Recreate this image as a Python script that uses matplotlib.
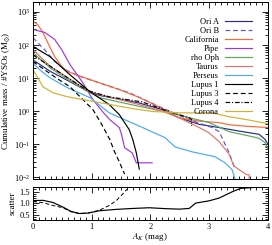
import numpy as np
import matplotlib
matplotlib.use("Agg")
import matplotlib.pyplot as plt
from matplotlib.ticker import MultipleLocator, LogLocator, NullFormatter

plt.rcParams['font.family'] = ['Liberation Serif', 'DejaVu Serif']
plt.rcParams['mathtext.fontset'] = 'stix'
plt.rcParams['font.size'] = 6

# cumulative mass / #YSOs curves (x = A_K in mag, y in Msun)
oria_x = [0, 0.3, 0.6, 0.93, 1.13, 1.8, 2.2, 2.49, 2.83, 3.17, 3.51, 3.85, 3.95, 4.0]
oria_y = [35.5, 15.8, 8.3, 4.0, 3.0, 1.78, 1.12, 0.63, 0.4, 0.32, 0.25, 0.2, 0.141, 0.1]

orib_x = [0, 0.2, 0.37, 0.54, 0.8, 1.13, 1.64, 2.15, 2.66, 3.05, 3.17, 3.25, 3.34, 3.4, 3.44]
orib_y = [166, 72, 32, 18.2, 11.2, 7.2, 3.6, 1.38, 0.55, 0.32, 0.24, 0.12, 0.055, 0.028, 0.018]

cal_x = [0, 0.08, 0.17, 0.25, 0.37, 0.49, 0.59, 0.74, 1.13, 1.47, 1.81, 2.2, 2.49, 2.83, 3.17, 3.34, 3.63, 4.0]
cal_y = [525, 417, 240, 120, 44.7, 22.4, 15.8, 12.6, 7.2, 4.5, 2.6, 1.2, 0.63, 0.5, 0.45, 0.39, 0.35, 0.32]

pipe_x = [0, 0.2, 0.37, 0.49, 0.63, 0.85, 1.02, 1.19, 1.31, 1.47, 1.51, 1.56, 1.69, 1.76, 2.03]
pipe_y = [295, 240, 148, 72, 25.7, 7.2, 2.24, 0.95, 0.55, 0.32, 0.195, 0.079, 0.055, 0.0275, 0.0275]

oph_x = [0, 0.3, 0.6, 0.93, 1.13, 1.8, 2.2, 2.49, 3.0, 3.34, 3.68, 3.85, 3.95, 4.0]
oph_y = [59, 20, 8.9, 4.0, 2.57, 1.41, 1.0, 0.76, 0.45, 0.24, 0.178, 0.151, 0.112, 0.071]

tau_x = [0, 0.3, 0.6, 0.93, 1.13, 1.81, 2.2, 2.49, 2.83, 3.0, 3.17, 3.34, 3.42, 3.56, 3.64, 3.68, 3.68]
tau_y = [72, 22.4, 10, 4.2, 3.2, 1.58, 1.0, 0.63, 0.32, 0.22, 0.12, 0.05, 0.022, 0.0148, 0.012, 0.012, 0.008]

per_x = [0, 0.15, 0.3, 0.6, 0.97, 1.3, 1.64, 1.81, 2.25, 2.42, 2.71, 3.1, 3.27, 3.39, 3.44]
per_y = [28, 15.8, 10, 5.0, 2.57, 0.89, 0.48, 0.355, 0.158, 0.083, 0.059, 0.042, 0.0275, 0.017, 0.009]

lup1_x = [0, 0.29, 0.63, 0.97, 1.3, 1.47, 1.64, 1.7, 1.76, 1.81]
lup1_y = [91, 44.7, 12.6, 3.9, 1.58, 0.79, 0.275, 0.138, 0.055, 0.0178]

lup3_x = [0, 0.2, 0.4, 0.63, 0.85, 1.02, 1.14, 1.22, 1.31, 1.39, 1.47, 1.56]
lup3_y = [31.6, 17.8, 10, 5.5, 2.24, 1.12, 0.5, 0.275, 0.138, 0.059, 0.0295, 0.0126]

lup4_x = [0, 0.3, 0.6, 0.93, 1.3, 1.86, 2.3, 2.66, 2.7, 2.7]
lup4_y = [50, 22.4, 10, 4.2, 2.7, 1.9, 1.0, 0.63, 0.56, 0.355]

cor_x = [0, 0.07, 0.17, 0.34, 0.58, 0.85, 1.13, 1.69, 2.03, 2.5, 3.05, 3.34, 3.65, 4.0]
cor_y = [18.2, 11.2, 5.5, 3.6, 2.75, 2.24, 1.82, 1.2, 0.98, 0.89, 0.89, 0.68, 0.55, 0.42]

# scatter panel
sc_x = [0, 0.17, 0.34, 0.51, 0.65, 0.79, 0.94, 1.13, 1.42, 1.7, 1.98, 2.27, 2.49, 2.66, 2.77, 3.0, 3.17, 3.4, 3.54, 3.73]
sc_y = [1.11, 1.12, 1.03, 0.83, 0.64, 0.55, 0.57, 0.67, 0.73, 0.77, 0.8, 0.76, 0.74, 0.77, 1.0, 1.1, 1.22, 1.5, 1.64, 1.67]
sc2_x = [0, 0.17, 0.34, 0.51, 0.65, 0.79, 0.94, 1.13, 1.3, 1.42, 1.53, 1.6]
sc2_y = [1.07, 1.02, 0.9, 0.8, 0.63, 0.55, 0.57, 0.69, 0.9, 1.11, 1.4, 1.6]

curves = [
    ("Ori A", oria_x, oria_y, "#2a2a8a", "-"),
    ("Ori B", orib_x, orib_y, "#5858d0", (0, (4, 2.5))),
    ("California", cal_x, cal_y, "#ff6633", "-"),
    ("Pipe", pipe_x, pipe_y, "#a335e0", "-"),
    ("rho Oph", oph_x, oph_y, "#5aa85a", "-"),
    ("Taurus", tau_x, tau_y, "#e4736a", "-"),
    ("Perseus", per_x, per_y, "#4aaaf0", "-"),
    ("Lupus 1", lup1_x, lup1_y, "black", "-"),
    ("Lupus 3", lup3_x, lup3_y, "black", (0, (4, 2.5))),
    ("Lupus 4", lup4_x, lup4_y, "black", (0, (4, 1.5, 1, 1.5))),
    ("Corona", cor_x, cor_y, "#d4b02e", "-"),
]

fig = plt.figure(figsize=(2.72, 2.45), dpi=100)
ax = fig.add_axes([0.121, 0.270, 0.864, 0.722])
ax2 = fig.add_axes([0.121, 0.102, 0.864, 0.135])

for name, xs, ys, c, ls in curves:
    ax.plot(xs, ys, color=c, ls=ls, lw=0.85, label=name)

ax.set_yscale('log')
ax.set_xlim(0, 4)
ax.set_ylim(0.009, 2000)
ax.set_ylabel(r"Cumulative mass / #YSOs (M$_{\odot}$)", fontsize=6.5, labelpad=1)
ax.yaxis.set_major_locator(LogLocator(base=10, numticks=10))
ax.yaxis.set_minor_locator(LogLocator(base=10, subs=np.arange(2, 10), numticks=10))
ax.yaxis.set_minor_formatter(NullFormatter())
ax.xaxis.set_major_locator(MultipleLocator(1))
ax.xaxis.set_minor_locator(MultipleLocator(0.1))
ax.tick_params(labelbottom=False)

leg = ax.legend(loc='upper right', frameon=False, markerfirst=False, fontsize=6,
                handlelength=3.2, handletextpad=0.8, labelspacing=0.12,
                borderaxespad=1.5, borderpad=0.4)
for t in leg.get_texts():
    t.set_ha('right')

ax2.plot(sc_x, sc_y, color='black', lw=0.85)
ax2.plot(sc2_x, sc2_y, color='black', lw=0.7, ls=(0, (4, 2.5)))
ax2.set_xlim(0, 4)
ax2.set_ylim(0.27, 1.7)
ax2.set_yticks([0.5, 1.0, 1.5])
ax2.yaxis.set_minor_locator(MultipleLocator(0.1))
ax2.xaxis.set_major_locator(MultipleLocator(1))
ax2.xaxis.set_minor_locator(MultipleLocator(0.1))
ax2.set_ylabel("scatter", fontsize=6.5, labelpad=2)
ax2.set_xlabel(r"$A_K$ (mag)", fontsize=6.5, labelpad=0.5)

for a in (ax, ax2):
    a.tick_params(which='both', direction='in', top=True, right=True, width=0.6)
    a.tick_params(which='major', length=4, labelsize=6, pad=2)
    a.tick_params(which='minor', length=2)
    for s in a.spines.values():
        s.set_linewidth(0.7)

plt.savefig("out.png", dpi=100)
